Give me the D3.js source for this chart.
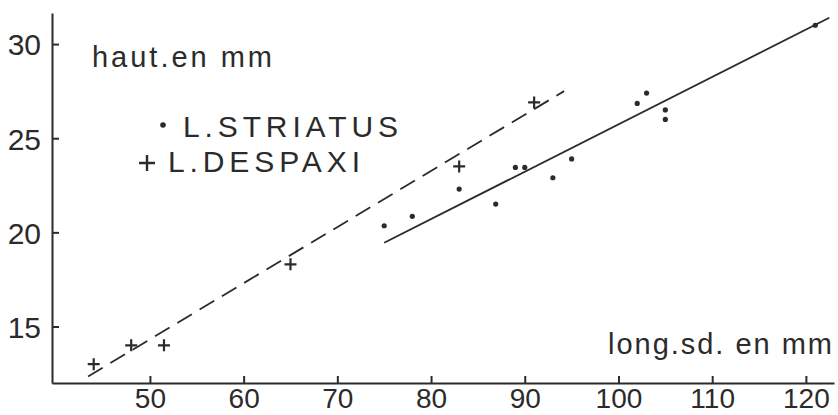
<!DOCTYPE html>
<meta charset="utf-8">
<style>
body { margin: 0; background: #fff; }
.axis .domain { stroke: #2b2b2b; stroke-width: 2; }
.axis line { stroke: #2b2b2b; stroke-width: 2; }
.axis text { font: 30px "Liberation Sans", Arial, sans-serif; fill: #2b2b2b; }
.lbl { font-family: "Liberation Sans", Arial, sans-serif; fill: #2b2b2b; }
</style>
<svg width="838" height="415"></svg>
<script src="https://d3js.org/d3.v7.min.js"></script>
<script>

// L. striatus (dots): longueur, hauteur
var striatusLong = [75, 78, 83, 86.9, 89, 90, 93, 95, 102, 103, 105, 105, 121];
var striatusHaut = [20.35, 20.85, 22.3, 21.5, 23.45, 23.45, 22.9, 23.9, 26.85, 27.4, 26.5, 26.0, 31.0];

// L. despaxi (crosses)
var despaxiLong = [44, 48, 51.5, 65, 83, 91];
var despaxiHaut = [13.0, 14.0, 14.0, 18.3, 23.5, 26.9];

// fitted lines, end points
var striatusFit = [[75, 19.45], [122.5, 31.4]];
var despaxiFit = [[43.4, 12.35], [94.2, 27.5]];

var xTicks = [50, 60, 70, 80, 90, 100, 110, 120];
var yTicks = [15, 20, 25, 30];

var ink = "#2b2b2b";
var svg = d3.select("svg");

var x = d3.scaleLinear().domain([39.55, 123.0]).range([52, 834]);
var y = d3.scaleLinear().domain([12.0, 31.65]).range([383, 13]);

// axes, ticks pointing inward
svg.append("g")
    .attr("class", "axis")
    .attr("transform", "translate(0," + y.range()[0] + ")")
    .call(d3.axisBottom(x).tickValues(xTicks).tickSize(-7).tickSizeOuter(0).tickPadding(5))
    .call(g => g.selectAll("text").attr("dy", "0.72em").style("font-size", "28px"));

svg.append("g")
    .attr("class", "axis")
    .attr("transform", "translate(" + x.range()[0] + ",0)")
    .call(d3.axisLeft(y).tickValues(yTicks).tickSize(-7).tickSizeOuter(0).tickPadding(11))
    .call(g => g.selectAll("text").attr("dy", "0.36em"));

// regression lines
var line = d3.line().x(d => x(d[0])).y(d => y(d[1]));

svg.append("path")
    .attr("d", line(striatusFit))
    .attr("fill", "none")
    .attr("stroke", ink)
    .attr("stroke-width", 1.8);

svg.append("path")
    .attr("d", line(despaxiFit))
    .attr("fill", "none")
    .attr("stroke", ink)
    .attr("stroke-width", 1.8)
    .attr("stroke-dasharray", "17,9");

// dots
svg.append("g").selectAll("circle")
    .data(d3.zip(striatusLong, striatusHaut))
    .enter().append("circle")
    .attr("cx", d => x(d[0]))
    .attr("cy", d => y(d[1]))
    .attr("r", 2.6)
    .attr("fill", ink);

// crosses
svg.append("g").selectAll("path")
    .data(d3.zip(despaxiLong, despaxiHaut))
    .enter().append("path")
    .attr("transform", d => "translate(" + x(d[0]) + "," + y(d[1]) + ")")
    .attr("d", "M-6,0H6M0,-6V6")
    .attr("stroke", ink)
    .attr("stroke-width", 2.2);

// axis titles
svg.append("text").attr("class", "lbl")
    .attr("x", 92).attr("y", 67)
    .attr("font-size", 29)
    .attr("textLength", 180).attr("lengthAdjust", "spacing")
    .text("haut.en mm");

svg.append("text").attr("class", "lbl")
    .attr("x", 608).attr("y", 354)
    .attr("font-size", 29)
    .attr("textLength", 224).attr("lengthAdjust", "spacing")
    .text("long.sd. en mm");

// legend
svg.append("circle")
    .attr("cx", 163).attr("cy", 125).attr("r", 2.8).attr("fill", ink);
svg.append("text").attr("class", "lbl")
    .attr("x", 183).attr("y", 137)
    .attr("font-size", 30)
    .attr("textLength", 215).attr("lengthAdjust", "spacing")
    .text("L.STRIATUS");

svg.append("path")
    .attr("transform", "translate(147,163)")
    .attr("d", "M-8,0H8M0,-8V8")
    .attr("stroke", ink)
    .attr("stroke-width", 2.4);
svg.append("text").attr("class", "lbl")
    .attr("x", 168).attr("y", 172)
    .attr("font-size", 30)
    .attr("textLength", 192).attr("lengthAdjust", "spacing")
    .text("L.DESPAXI");

</script>
